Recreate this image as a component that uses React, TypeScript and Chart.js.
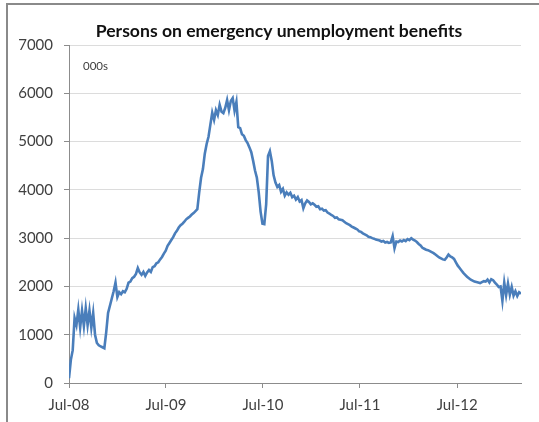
import React, { useEffect, useRef } from "react";
import { Chart, registerables } from "chart.js";

Chart.register(...registerables);

// Weekly counts (thousands), first week of July 2008 onward
const weeklyPersons: number[] = [
  100, 480, 680, 1350, 1200, 1520, 1150, 1500, 1180, 1550,
  1200, 1500, 1150, 1450, 1000, 830, 780, 760, 740, 720,
  1050, 1450, 1600, 1750, 1900, 2080, 1780, 1880, 1840, 1900,
  1880, 1950, 2080, 2100, 2170, 2200, 2260, 2380, 2290, 2240,
  2300, 2220, 2290, 2340, 2300, 2400, 2420, 2480, 2500, 2560,
  2610, 2680, 2740, 2840, 2900, 2960, 3020, 3100, 3150, 3220,
  3270, 3300, 3340, 3390, 3420, 3450, 3490, 3520, 3560, 3600,
  3950, 4250, 4430, 4750, 4950, 5100, 5350, 5600, 5450, 5650,
  5550, 5760, 5620, 5590, 5700, 5860, 5650, 5840, 5900, 5640,
  5820, 5300, 5280, 5150, 5120, 5030, 4970, 4880, 4780, 4600,
  4400, 4250, 3950, 3550, 3300, 3290, 3700, 4700, 4800, 4600,
  4300, 4150, 4060, 4100, 3960, 4020, 3880, 3950, 3900, 3940,
  3850, 3880, 3800, 3850, 3760, 3790, 3620, 3720, 3780, 3750,
  3700, 3720, 3690, 3650, 3660, 3600, 3610, 3570, 3580, 3530,
  3510, 3480, 3460, 3420, 3430, 3390, 3380, 3370, 3340, 3310,
  3290, 3270, 3240, 3220, 3200, 3180, 3140, 3130, 3100, 3080,
  3060, 3030, 3020, 3000, 2990, 2970, 2960, 2950, 2930, 2940,
  2910, 2920, 2900, 2910, 3040, 2790, 2930, 2920, 2950, 2930,
  2960, 2940, 2980, 2960, 3000, 2970, 2950, 2920, 2880, 2850,
  2800, 2780, 2760, 2750, 2730, 2710, 2690, 2660, 2630, 2600,
  2580, 2560, 2550, 2600, 2660, 2620, 2600, 2570, 2500, 2430,
  2380, 2330, 2280, 2240, 2200, 2170, 2140, 2120, 2100, 2090,
  2080, 2070, 2090, 2110, 2100, 2140, 2080, 2150, 2130, 2080,
  2040, 1990, 2000, 1700, 2080, 1820, 2060, 1830, 1990, 1810,
  1900, 1800, 1880, 1850,
];

const tickYears: number[] = [2008, 2009, 2010, 2011, 2012];
const tickLabels: string[] = ["Jul-08", "Jul-09", "Jul-10", "Jul-11", "Jul-12"];
const yTicks: number[] = [0, 1000, 2000, 3000, 4000, 5000, 6000, 7000];

const TITLE = "Persons on emergency unemployment benefits";
const UNIT = "000s";

const DAY_MS = 86400000;
const START = Date.UTC(2008, 6, 1);
const tickDays = tickYears.map((y) => (Date.UTC(y, 6, 1) - START) / DAY_MS);
const points = weeklyPersons.map((v, i) => ({ x: i * 7, y: v }));
const lastDay = (weeklyPersons.length - 1) * 7;

const FONT = "Lato, 'Open Sans', sans-serif";

const annotations = {
  id: "annotations",
  afterDraw(chart: Chart) {
    const { ctx, chartArea } = chart;
    ctx.save();
    ctx.fillStyle = "#111111";
    ctx.font = `bold 17.6px ${FONT}`;
    ctx.textAlign = "center";
    ctx.textBaseline = "alphabetic";
    ctx.fillText(TITLE, 279, 37);
    ctx.fillStyle = "#404040";
    ctx.font = `11.5px ${FONT}`;
    ctx.textAlign = "left";
    ctx.textBaseline = "middle";
    ctx.fillText(UNIT, chartArea.left + 14, 66);
    ctx.restore();
  },
};

export default function App() {
  const canvasRef = useRef<HTMLCanvasElement | null>(null);

  useEffect(() => {
    if (!canvasRef.current) return;
    const chart = new Chart(canvasRef.current, {
      type: "line",
      data: {
        datasets: [
          {
            data: points,
            borderColor: "#4a7ebb",
            borderWidth: 2.6,
            pointRadius: 0,
            tension: 0,
            fill: false,
          },
        ],
      },
      options: {
        animation: false,
        responsive: false,
        layout: { padding: { top: 45, right: 18, bottom: 0, left: 0 } },
        plugins: {
          legend: { display: false },
          title: { display: false },
          tooltip: { enabled: false },
        },
        scales: {
          x: {
            type: "linear",
            min: 0,
            max: lastDay,
            afterBuildTicks: (scale: any) => {
              scale.ticks = tickDays.map((v) => ({ value: v }));
            },
            afterFit: (scale: any) => {
              scale.height = 39;
            },
            ticks: {
              autoSkip: false,
              maxRotation: 0,
              padding: 8,
              color: "#404040",
              font: { family: FONT, size: 15 },
              callback: (v: any) => {
                const i = tickDays.indexOf(Number(v));
                return i >= 0 ? tickLabels[i] : "";
              },
            },
            grid: {
              drawOnChartArea: false,
              drawTicks: true,
              tickLength: 5,
              tickColor: "#8c8c8c",
            },
            border: { display: true, color: "#8c8c8c", width: 1 },
          },
          y: {
            min: 0,
            max: 7000,
            afterBuildTicks: (scale: any) => {
              scale.ticks = yTicks.map((v) => ({ value: v }));
            },
            afterFit: (scale: any) => {
              scale.width = 69;
            },
            ticks: {
              padding: 11,
              color: "#404040",
              font: { family: FONT, size: 15 },
              callback: (v: any) => String(v),
            },
            grid: {
              color: "#dcdcdc",
              lineWidth: 1,
              drawTicks: true,
              tickLength: 5,
              tickColor: "#8c8c8c",
            },
            border: { display: true, color: "#8c8c8c", width: 1 },
          },
        },
      },
      plugins: [annotations],
    });
    return () => chart.destroy();
  }, []);

  return (
    <div
      style={{
        position: "fixed",
        left: 0,
        top: 0,
        width: 539,
        height: 422,
        background: "#ffffff",
        overflow: "hidden",
      }}
    >
      <canvas
        ref={canvasRef}
        width={539}
        height={422}
        style={{ position: "absolute", left: 0, top: 0, width: 539, height: 422 }}
      />
      <div
        style={{
          position: "absolute",
          left: 6,
          top: 3,
          width: 700,
          height: 700,
          borderTop: "2px solid #8a8a8a",
          borderLeft: "2px solid #8a8a8a",
          pointerEvents: "none",
        }}
      />
    </div>
  );
}
